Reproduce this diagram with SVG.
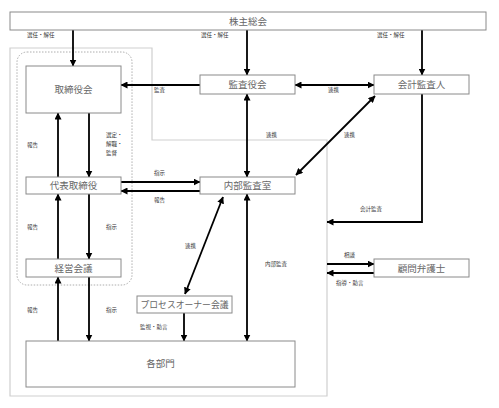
<svg xmlns="http://www.w3.org/2000/svg" width="499" height="408" viewBox="0 0 499 408">
<style>
.box{fill:#fff;stroke:#8a8a8a;stroke-width:1}
.bt{font-family:"Noto Sans CJK JP","Liberation Sans",sans-serif;font-size:9.5px;fill:#666;text-anchor:middle}
.lb{font-family:"Noto Sans CJK JP","Liberation Sans",sans-serif;font-size:5.5px;fill:#333}
.ar{stroke:#000;stroke-width:1.8;fill:none;marker-end:url(#ah)}
.ar2{stroke:#000;stroke-width:1.8;fill:none;marker-end:url(#ah);marker-start:url(#ah)}
</style>
<defs>
<marker id="ah" markerUnits="userSpaceOnUse" markerWidth="7" markerHeight="7" refX="6.5" refY="3.5" orient="auto-start-reverse"><path d="M0,0 L7,3.5 L0,7 z" fill="#000"/></marker>
</defs>
<rect width="499" height="408" fill="#fff"/>
<g id="frames">
<path d="M10,48 H152 V140 H327 V396 H10 Z" fill="none" stroke="#cfcfcf" stroke-width="1.2"/>
<rect x="17" y="52" width="115" height="233" rx="10" fill="none" stroke="#999" stroke-width="0.8" stroke-dasharray="1.5,1.5"/>
</g>
<g id="connectors">
<line class="ar" x1="73" y1="30" x2="73" y2="66"/>
<line class="ar" x1="247" y1="30" x2="247" y2="75"/>
<line class="ar" x1="422" y1="30" x2="422" y2="75"/>
<line class="ar" x1="200" y1="85" x2="121" y2="85"/>
<line class="ar2" x1="295" y1="85" x2="374" y2="85"/>
<line class="ar2" x1="247" y1="94" x2="247" y2="177"/>
<line class="ar2" x1="296" y1="175" x2="375" y2="96"/>
<polyline class="ar" points="422,94 422,222 327,222"/>
<line class="ar" x1="327" y1="264" x2="374" y2="264"/>
<line class="ar" x1="374" y1="273" x2="327" y2="273"/>
<line class="ar" x1="58" y1="177" x2="58" y2="113"/>
<line class="ar" x1="89" y1="113" x2="89" y2="177"/>
<line class="ar" x1="121" y1="182" x2="200" y2="182"/>
<line class="ar" x1="200" y1="191" x2="121" y2="191"/>
<line class="ar" x1="58" y1="259" x2="58" y2="194"/>
<line class="ar" x1="89" y1="194" x2="89" y2="259"/>
<line class="ar" x1="58" y1="341" x2="58" y2="277"/>
<line class="ar" x1="89" y1="277" x2="89" y2="341"/>
<line class="ar2" x1="223" y1="197" x2="185" y2="294"/>
<line class="ar" x1="184" y1="313" x2="184" y2="341"/>
<line class="ar2" x1="247" y1="194" x2="247" y2="341"/>
</g>
<g id="labels">
<text class="lb" x="27" y="37">選任・解任</text>
<text class="lb" x="201" y="37">選任・解任</text>
<text class="lb" x="377" y="37">選任・解任</text>
<text class="lb" x="154" y="92">監査</text>
<text class="lb" x="328" y="92">連携</text>
<text class="lb" x="266" y="137">連携</text>
<text class="lb" x="344" y="137">連携</text>
<text class="lb" x="360" y="211">会計監査</text>
<text class="lb" x="344" y="257">相談</text>
<text class="lb" x="336" y="285">指導・助言</text>
<text class="lb" x="27" y="147">報告</text>
<text class="lb" x="106" y="137">選定・</text>
<text class="lb" x="106" y="146">解職・</text>
<text class="lb" x="106" y="155">監督</text>
<text class="lb" x="154" y="175">指示</text>
<text class="lb" x="154" y="202">報告</text>
<text class="lb" x="27" y="229">報告</text>
<text class="lb" x="106" y="229">指示</text>
<text class="lb" x="27" y="312">報告</text>
<text class="lb" x="106" y="312">指示</text>
<text class="lb" x="185" y="248">連携</text>
<text class="lb" x="140" y="329">監視・助言</text>
<text class="lb" x="265" y="266">内部監査</text>
</g>
<g id="n-kabunushi"><rect class="box" x="10" y="12" width="476" height="18"/><text class="bt" x="248" y="24.5">株主総会</text></g>
<g id="n-torishimariyakukai"><rect class="box" x="26" y="66" width="95" height="47"/><text class="bt" x="73.5" y="93">取締役会</text></g>
<g id="n-kansayakukai"><rect class="box" x="200" y="75" width="95" height="19"/><text class="bt" x="247.5" y="88">監査役会</text></g>
<g id="n-kaikeikansanin"><rect class="box" x="374" y="75" width="95" height="19"/><text class="bt" x="421.5" y="88">会計監査人</text></g>
<g id="n-daihyo"><rect class="box" x="26" y="177" width="95" height="17"/><text class="bt" x="73.5" y="189">代表取締役</text></g>
<g id="n-naibukansa"><rect class="box" x="200" y="177" width="95" height="17"/><text class="bt" x="247.5" y="189">内部監査室</text></g>
<g id="n-keieikaigi"><rect class="box" x="26" y="259" width="95" height="18"/><text class="bt" x="73.5" y="271.5">経営会議</text></g>
<g id="n-process"><rect class="box" x="137" y="296" width="95" height="17"/><text class="bt" x="184.5" y="308" style="font-size:8.8px">プロセスオーナー会議</text></g>
<g id="n-komon"><rect class="box" x="374" y="259" width="95" height="18"/><text class="bt" x="421.5" y="271.5">顧問弁護士</text></g>
<g id="n-kakubumon"><rect class="box" x="26" y="341" width="269" height="46"/><text class="bt" x="160.5" y="367">各部門</text></g>
</svg>
